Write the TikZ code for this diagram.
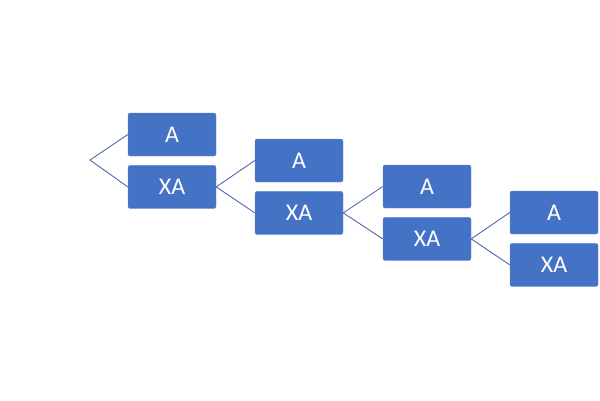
\documentclass[tikz,border=0pt]{standalone}
\usepackage{fontspec}
\setmainfont{Carlito}
\usetikzlibrary{positioning}
\definecolor{boxblue}{HTML}{4472C4}
\definecolor{linkblue}{HTML}{4A6CA8}
\tikzset{
  cell/.style={draw=boxblue!80!white,fill=boxblue,rounded corners=2pt,minimum width=88pt,minimum height=43pt,text=white,font=\fontsize{24}{28}\selectfont,inner sep=0pt},
  link/.style={draw=linkblue,line width=0.9pt}
}
\begin{document}
\begin{tikzpicture}[x=1pt,y=-1pt]
  \useasboundingbox (0,0) rectangle (600,400);
  \coordinate (root) at (90,160);
  \foreach \i/\x/\y in {1/172/134.5,2/299/160.5,3/427/186.5,4/554/212.5}{
    \node[cell] (a\i) at (\x,\y) {A};
    \node[cell,below=9pt of a\i] (xa\i) {XA};
  }
  \draw[link] (root) -- (a1.west);
  \draw[link] (root) -- (xa1.west);
  \foreach \i/\j in {1/2,2/3,3/4}{
    \draw[link] (xa\i.east) -- (a\j.west);
    \draw[link] (xa\i.east) -- (xa\j.west);
  }
\end{tikzpicture}
\end{document}
